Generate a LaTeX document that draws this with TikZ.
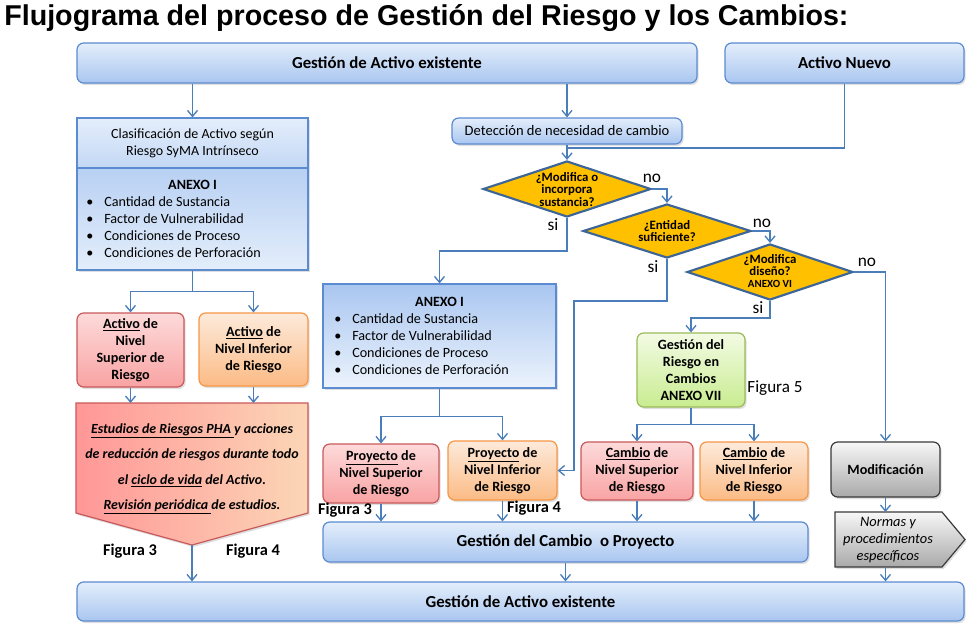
\documentclass[tikz,border=0pt]{standalone}
\usepackage{fontspec}
\setmainfont{Carlito}
\newfontfamily\titlefont{Liberation Sans}
\usetikzlibrary{arrows.meta,shadows,shapes.geometric}
\definecolor{cblue}{HTML}{4A7EBB}
\definecolor{bborder}{HTML}{5B8BD0}
\definecolor{btop}{HTML}{E4EEFB}
\definecolor{bbot}{HTML}{A9C6F0}
\definecolor{rborder}{HTML}{C9595A}
\definecolor{rtop}{HTML}{FDDADA}
\definecolor{rbot}{HTML}{F9A3A3}
\definecolor{oborder}{HTML}{F79646}
\definecolor{otop}{HTML}{FDEADB}
\definecolor{obot}{HTML}{FBBB85}
\definecolor{gborder}{HTML}{9BBB59}
\definecolor{gtop}{HTML}{F3FBE4}
\definecolor{gbot}{HTML}{C8EC90}
\definecolor{kborder}{HTML}{3A3A3A}
\definecolor{ktop}{HTML}{F7F7F7}
\definecolor{kbot}{HTML}{A9A9A9}
\definecolor{dfill}{HTML}{FFC000}
\definecolor{dborder}{HTML}{3D6597}
\definecolor{pleft}{HTML}{FF9797}
\definecolor{pright}{HTML}{FCD6B6}
\begin{document}
\begin{tikzpicture}[x=0.75pt,y=-0.75pt,
  conn/.style={draw=cblue, line width=1pt, -{Straight Barb[length=4.5pt,width=7.5pt]}},
  cline/.style={draw=cblue, line width=1pt},
  wd/.style={minimum width=#1*0.75pt},
  ht/.style={minimum height=#1*0.75pt},
  shad/.style={drop shadow={opacity=0.25,shadow xshift=1.2pt,shadow yshift=-1.5pt}},
  rbox/.style={rounded corners=5pt, line width=0.9pt, shad, inner sep=0pt, align=center},
  bluebox/.style={rbox, draw=bborder, top color=btop, bottom color=bbot},
  redbox/.style={rbox, draw=rborder, top color=rtop, bottom color=rbot},
  orabox/.style={rbox, draw=oborder, top color=otop, bottom color=obot},
  grnbox/.style={rbox, draw=gborder, top color=gtop, bottom color=gbot},
  grybox/.style={rbox, draw=kborder, top color=ktop, bottom color=kbot},
  sqbox/.style={line width=0.9pt, draw=bborder, shad, inner sep=0pt, align=center},
  dia/.style={diamond, draw=dborder, line width=1.6pt, fill=dfill, inner sep=0pt},
  hdr/.style={font=\bfseries\fontsize{12.6}{14}\selectfont},
  lvl/.style={font=\bfseries\fontsize{10.6}{12.75}\selectfont},
  diat/.style={align=center, inner sep=0pt, font=\bfseries\fontsize{9.6}{9.2}\selectfont},
  lab/.style={inner sep=0pt, font=\fontsize{13}{15}\selectfont},
  fig/.style={inner sep=0pt, font=\bfseries\fontsize{12.3}{14}\selectfont},
  blist/.style={inner sep=0pt, align=left, anchor=north west, font=\fontsize{10.6}{12.75}\selectfont},
]
\useasboundingbox (0,0) rectangle (973,629);
\fill[white] (0,0) rectangle (973,629);

% title
\node[anchor=base west, inner sep=0pt, font=\titlefont\bfseries\fontsize{21.5}{24}\selectfont] (title) at (4,25) {Flujograma del proceso de Gestión del Riesgo y los Cambios:};

% top row
\node[bluebox, hdr, wd=620, ht=40] (gae) at (387,63) {Gestión de Activo existente};
\node[bluebox, hdr, wd=239, ht=40] (an) at (844.5,63) {Activo Nuevo};

% left column
\node[sqbox, top color=btop, bottom color=bbot!55!btop, wd=231, ht=50, font=\fontsize{10.5}{12.75}\selectfont] (clsTop) at (192.5,143) {Clasificación de Activo según\\Riesgo SyMA Intrínseco};
\node[sqbox, top color=bbot!75!btop, bottom color=btop, wd=231, ht=102] (clsBot) at (192.5,219) {};
\node[inner sep=0pt, font=\bfseries\fontsize{10.6}{12.75}\selectfont] (clsAnx) at (192.5,185) {ANEXO I};
\node[blist] (clsList) at (86,196) {\makebox[13.5pt][l]{\textbullet}Cantidad de Sustancia\\
\makebox[13.5pt][l]{\textbullet}Factor de Vulnerabilidad\\
\makebox[13.5pt][l]{\textbullet}Condiciones de Proceso\\
\makebox[13.5pt][l]{\textbullet}Condiciones de Perforación};

\node[redbox, lvl, wd=107, ht=74] (asup) at (130.5,350) {\underline{Activo} de\\Nivel\\Superior de\\Riesgo};
\node[orabox, lvl, wd=109, ht=73] (ainf) at (253.5,349.5) {\underline{Activo} de\\Nivel Inferior\\de Riesgo};

\path[draw=rborder, line width=0.9pt, left color=pleft, right color=pright, shad]
  (76,403) -- (308,403) -- (308,513) -- (192,545) -- (76,513) -- cycle;
\coordinate (phatop) at (192,403);
\coordinate (phatip) at (192,545);
\node[inner sep=0pt, align=center, font=\bfseries\itshape\fontsize{10.45}{19}\selectfont] (pha) at (192,469)
  {\underline{Estudios de Riesgos PHA\ }y acciones\\de reducción de riesgos durante todo\\el \underline{ciclo de vida} del Activo.\\\underline{Revisión periódica\ }de estudios.};
\node[fig] (f3a) at (130,551) {Figura 3};
\node[fig] (f4a) at (253,551) {Figura 4};

% middle
\node[bluebox, font=\fontsize{10.9}{12}\selectfont, wd=230, ht=26] (det) at (567,131) {Detección de necesidad de cambio};
\coordinate (j1) at (567,148);
\node[dia, minimum width=168*0.75pt, minimum height=56*0.75pt] (d1) at (567,189) {};
\node[diat] (d1t) at (567,189.5) {¿Modifica o\\incorpora\\sustancia?};
\node[dia, minimum width=168*0.75pt, minimum height=54*0.75pt] (d2) at (667,231) {};
\node[diat] (d2t) at (667,231) {¿Entidad\\suficiente?};
\node[dia, minimum width=166*0.75pt, minimum height=56*0.75pt] (d3) at (770,272) {};
\node[diat] (d3t) at (770,271) {¿Modifica\\diseño?\\{\fontsize{8.2}{9}\selectfont ANEXO VI}};

\node[lab] (no1) at (652,178) {no};
\node[lab] (si1) at (553,225) {si};
\node[lab] (no2) at (762,223) {no};
\node[lab] (si2) at (653,267) {si};
\node[lab] (no3) at (867,262) {no};
\node[lab] (si3) at (758,308) {si};

\node[sqbox, top color=bbot, bottom color=btop!70!white, wd=233, ht=104] (anx2) at (439.5,336) {};
\node[inner sep=0pt, font=\bfseries\fontsize{10.6}{12.75}\selectfont] (anxT) at (439.5,302) {ANEXO I};
\node[blist] (anxList) at (334,313) {\makebox[13.5pt][l]{\textbullet}Cantidad de Sustancia\\
\makebox[13.5pt][l]{\textbullet}Factor de Vulnerabilidad\\
\makebox[13.5pt][l]{\textbullet}Condiciones de Proceso\\
\makebox[13.5pt][l]{\textbullet}Condiciones de Perforación};

\node[redbox, lvl, wd=116, ht=59] (psup) at (381,473.5) {\underline{Proyecto} de\\Nivel Superior\\de Riesgo};
\node[orabox, lvl, wd=109, ht=59] (pinf) at (502.5,470.5) {\underline{Proyecto} de\\Nivel Inferior\\de Riesgo};
\node[fig] (f3b) at (345,510) {Figura 3};
\node[fig] (f4b) at (534,508) {Figura 4};

\node[grnbox, lvl, wd=108, ht=74] (grc) at (691,370) {Gestión del\\Riesgo en\\Cambios\\ANEXO VII};
\node[inner sep=0pt, font=\fontsize{12.8}{14}\selectfont] (f5) at (775,388) {Figura 5};
\node[redbox, lvl, wd=112, ht=58] (csup) at (637,471) {\underline{Cambio} de\\Nivel Superior\\de Riesgo};
\node[orabox, lvl, wd=108, ht=58] (cinf) at (754,471) {\underline{Cambio} de\\Nivel Inferior\\de Riesgo};

\node[grybox, lvl, wd=109, ht=55] (mod) at (885.5,469.5) {Modificación};
\path[draw=kborder, line width=0.9pt, top color=ktop, bottom color=kbot, shad]
  (835,512) -- (942,512) -- (965,539.5) -- (942,567) -- (835,567) -- cycle;
\coordinate (nortop) at (885.5,512);
\coordinate (norbot) at (885.5,567);
\node[inner sep=0pt, align=center, font=\itshape\fontsize{10.8}{12.75}\selectfont] (nor) at (888,540) {Normas y\\procedimientos\\específicos};

\node[bluebox, hdr, wd=485, ht=40] (gcp) at (565.5,542) {Gestión del Cambio\ \ o Proyecto};
\node[bluebox, hdr, wd=887, ht=39] (gab) at (520.5,601.5) {Gestión de Activo existente};

% connectors
\draw[conn] (clsTop.north |- gae.south) -- (clsTop.north);
\draw[conn] (det.north |- gae.south) -- (det.north);
\draw[cline] (an.south) |- (j1);
\draw[conn] (det.south) -- (d1.north);
\draw[conn] (d1.east) -| (d2.north);
\draw[conn] (d2.east) -| (d3.north);
\draw[conn] (d3.east) -| (mod.north);
\draw[conn] (d1.south) -- ++(0,33) -| (anx2.north);
\draw[conn] (d2.south) -- ++(0,42) -- ++(-93,0) |- (pinf.east);
\draw[conn] (d3.south) -- ++(0,17) -| (grc.north);
\draw[conn] (grc.south) -- ++(0,17) -| (csup.north);
\draw[conn] (grc.south) -- ++(0,17) -| (cinf.north);
\draw[conn] (csup.south) -- (csup.south |- gcp.north);
\draw[conn] (cinf.south) -- (cinf.south |- gcp.north);
\draw[conn] (anx2.south) -- ++(0,28) -| (psup.north);
\draw[conn] (anx2.south) -- ++(0,28) -| (pinf.north);
\draw[conn] (psup.south) -- (psup.south |- gcp.north);
\draw[conn] (pinf.south) -- (pinf.south |- gcp.north);
\draw[conn] (gcp.south) -- (gcp.south |- gab.north);
\draw[conn] (mod.south) -- (nortop);
\draw[conn] (norbot) -- (norbot |- gab.north);
\draw[conn] (clsBot.south) -- ++(0,21) -| (asup.north);
\draw[conn] (clsBot.south) -- ++(0,21) -| (ainf.north);
\draw[conn] (asup.south) -- (asup.south |- phatop);
\draw[conn] (ainf.south) -- (ainf.south |- phatop);
\draw[conn] (phatip) -- (phatip |- gab.north);
\end{tikzpicture}
\end{document}
